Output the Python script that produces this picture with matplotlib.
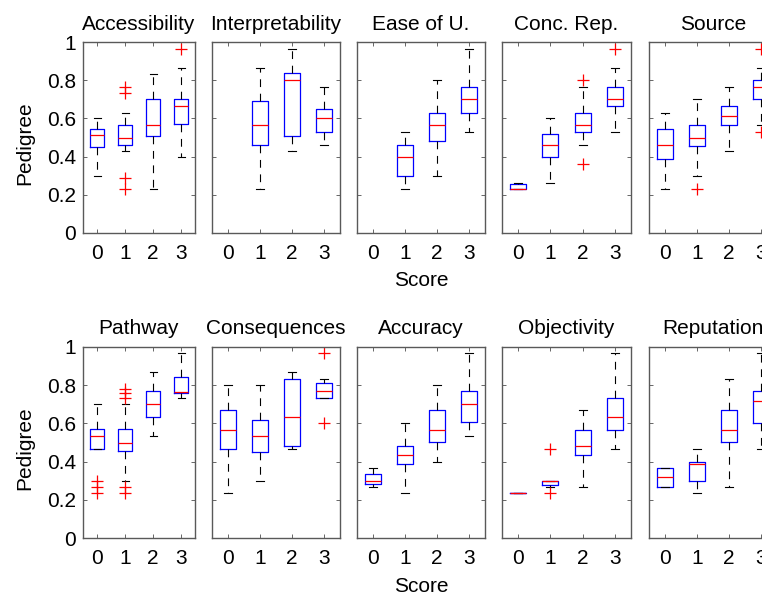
import matplotlib.pyplot as plt

plt.rcParams['font.family'] = ['Liberation Sans', 'DejaVu Sans']

# Score categories on the x axis
scores = [0, 1, 2, 3]

titles = ['Accessibility', 'Interpretability', 'Ease of U.', 'Conc. Rep.', 'Source',
          'Pathway', 'Consequences', 'Accuracy', 'Objectivity', 'Reputation']

# Box stats per score: [whisker low, q1, median, q3, whisker high] (None = no data)
accessibility = [[0.30, 0.45, 0.515, 0.547, 0.60],
                 [0.43, 0.463, 0.50, 0.564, 0.63],
                 [0.23, 0.507, 0.564, 0.70, 0.83],
                 [0.40, 0.573, 0.665, 0.70, 0.866]]
accessibility_out = [[], [0.23, 0.29, 0.735, 0.765], [], [0.965]]

interpretability = [None,
                    [0.23, 0.463, 0.563, 0.69, 0.866],
                    [0.43, 0.507, 0.80, 0.84, 0.965],
                    [0.463, 0.53, 0.60, 0.648, 0.765]]
interpretability_out = [[], [], [], []]

ease = [None,
        [0.23, 0.30, 0.40, 0.463, 0.53],
        [0.30, 0.48, 0.564, 0.63, 0.80],
        [0.53, 0.63, 0.70, 0.765, 0.965]]
ease_out = [[], [], [], []]

conc_rep = [[0.228, 0.228, 0.232, 0.256, 0.263],
            [0.263, 0.40, 0.463, 0.52, 0.60],
            [0.463, 0.53, 0.564, 0.63, 0.765],
            [0.53, 0.664, 0.70, 0.765, 0.866]]
conc_rep_out = [[], [], [0.36, 0.80], [0.965]]

source = [[0.228, 0.39, 0.463, 0.547, 0.63],
          [0.30, 0.456, 0.50, 0.563, 0.70],
          [0.43, 0.563, 0.615, 0.664, 0.765],
          [0.564, 0.70, 0.765, 0.80, 0.866]]
source_out = [[], [0.228], [], [0.53, 0.965]]

pathway = [[0.467, 0.467, 0.535, 0.57, 0.70],
           [0.30, 0.458, 0.50, 0.57, 0.70],
           [0.533, 0.635, 0.703, 0.769, 0.869],
           [0.734, 0.76, 0.767, 0.843, 0.97]]
pathway_out = [[0.236, 0.266, 0.297], [0.236, 0.266, 0.733, 0.757, 0.78], [], []]

consequences = [[0.236, 0.467, 0.568, 0.67, 0.80],
                [0.30, 0.449, 0.535, 0.617, 0.80],
                [0.467, 0.484, 0.636, 0.834, 0.869],
                [0.734, 0.734, 0.769, 0.81, 0.834]]
consequences_out = [[], [], [], [0.60, 0.97]]

accuracy = [[0.267, 0.283, 0.30, 0.336, 0.367],
            [0.236, 0.385, 0.435, 0.484, 0.60],
            [0.40, 0.502, 0.568, 0.67, 0.80],
            [0.535, 0.608, 0.70, 0.769, 0.97]]
accuracy_out = [[], [], [], []]

objectivity = [[0.236, 0.236, 0.236, 0.236, 0.236],
               [0.265, 0.275, 0.30, 0.30, 0.30],
               [0.267, 0.435, 0.484, 0.568, 0.67],
               [0.467, 0.568, 0.635, 0.734, 0.97]]
objectivity_out = [[], [0.236, 0.467], [], []]

reputation = [[0.267, 0.267, 0.318, 0.367, 0.367],
              [0.236, 0.301, 0.385, 0.40, 0.467],
              [0.267, 0.502, 0.568, 0.67, 0.834],
              [0.467, 0.603, 0.718, 0.769, 0.97]]
reputation_out = [[], [], [], []]

panels = [(accessibility, accessibility_out), (interpretability, interpretability_out),
          (ease, ease_out), (conc_rep, conc_rep_out), (source, source_out),
          (pathway, pathway_out), (consequences, consequences_out),
          (accuracy, accuracy_out), (objectivity, objectivity_out),
          (reputation, reputation_out)]

########################
# Layout (pixel positions of the axes boxes)
########################
W, H = 762, 598
col_lr = [(83, 195), (212, 340), (357, 485), (502, 631), (649, 777)]
row_tb = [(42, 233), (347, 538)]

fig = plt.figure(figsize=(W / 100, H / 100), dpi=100)

for i, (title, (stats, outs)) in enumerate(zip(titles, panels)):
    r, c = divmod(i, 5)
    L, R = col_lr[c]
    T, B = row_tb[r]
    ax = fig.add_axes([L / W, (H - B) / H, (R - L) / W, (B - T) / H])

    bxp_stats = []
    positions = []
    for s, st, out in zip(scores, stats, outs):
        if st is None:
            continue
        lo, q1, med, q3, hi = st
        bxp_stats.append(dict(whislo=lo, q1=q1, med=med, q3=q3, whishi=hi, fliers=out))
        positions.append(s)

    ax.bxp(bxp_stats, positions=positions, widths=0.5, capwidths=0.25,
           boxprops=dict(color='blue', linewidth=0.9),
           medianprops=dict(color='red', linewidth=0.9, zorder=3),
           whiskerprops=dict(color='black', linewidth=0.8, linestyle=(0, (7, 6))),
           capprops=dict(color='black', linewidth=0.8),
           flierprops=dict(marker='+', markeredgecolor='red', markersize=9,
                           markeredgewidth=0.9, linestyle='none'),
           manage_ticks=False)

    ax.set_xlim(-0.5, 3.5)
    ax.set_ylim(0, 1)
    ax.set_xticks(scores)
    ax.set_xticklabels([str(s) for s in scores])
    ax.set_yticks([0, 0.2, 0.4, 0.6, 0.8, 1])
    if c == 0:
        ax.set_yticklabels(['0', '0.2', '0.4', '0.6', '0.8', '1'])
    else:
        ax.set_yticklabels([])
    ax.tick_params(direction='in', length=3, width=0.6, labelsize=15, color='0.3',
                   right=True, top=True, pad=5)
    ax.tick_params(axis='x', pad=8)
    for sp in ax.spines.values():
        sp.set_color('0.35')
        sp.set_linewidth(1.0)
    ax.set_title(title, fontsize=15, pad=9)

# Shared labels
for T, B in row_tb:
    fig.text(25 / W, 1 - ((T + B) / 2 + 6) / H, 'Pedigree', rotation=90,
             ha='center', va='center', fontsize=15)
fig.text(421 / W, 1 - 280 / H, 'Score', ha='center', va='center', fontsize=15)
fig.text(421 / W, 1 - 586 / H, 'Score', ha='center', va='center', fontsize=15)

plt.savefig('out.png', dpi=100)
